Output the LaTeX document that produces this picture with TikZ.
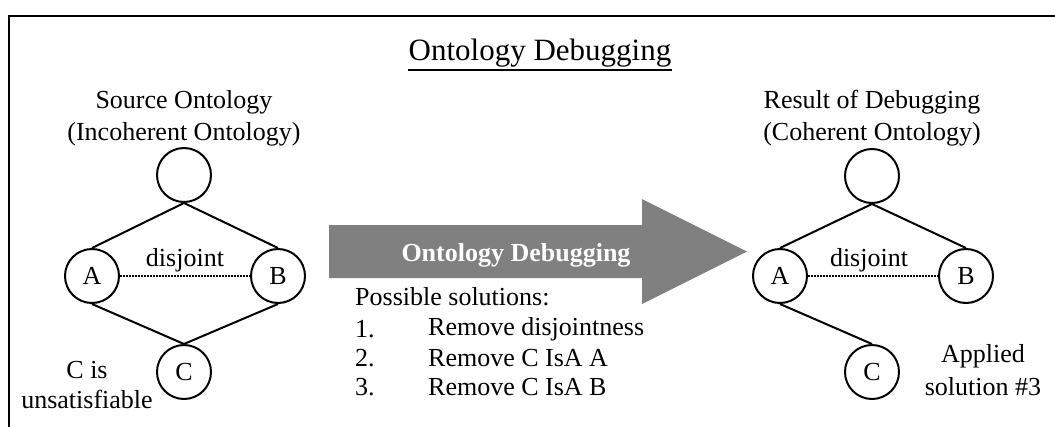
\documentclass[tikz,border=0pt]{standalone}
\usepackage{fontspec}
\setmainfont{Liberation Serif}
\begin{document}
\begin{tikzpicture}[x=1pt,y=-1pt,
  every node/.style={font=\fontsize{26}{32}\selectfont, inner sep=0pt},
  concept/.style={circle, draw, line width=2pt, minimum size=54pt},
  isa/.style={line width=2pt},
  disj/.style={line width=2pt, dash pattern=on 1.5pt off 1.5pt},
  caption/.style={align=center}]
\useasboundingbox (0,0) rectangle (1055,426);
% frame
\draw[line width=2.5pt] (9,440) -- (9,16) -- (1070,16);

% title
\node[anchor=base, font=\fontsize{31}{36}\selectfont] (title) at (540,60) {Ontology Debugging};
\draw[line width=1.8pt] ([yshift=-10pt]title.base west) -- ([yshift=-10pt]title.base east);

% source ontology
\node[caption] (srclab) at (184,118) {Source Ontology\\(Incoherent Ontology)};
\node[concept] (sT) at (184,175) {};
\node[concept] (sA) at (92,276) {A};
\node[concept] (sB) at (278,276) {B};
\node[concept] (sC) at (184,372) {C};
\draw[isa] (sT.south) -- (sA.north);
\draw[isa] (sT.south) -- (sB.north);
\draw[isa] (sA.south) -- (sC.north);
\draw[isa] (sB.south) -- (sC.north);
\draw[disj] (sA.east) -- (sB.west);
\node (sdis) at (185,260) {disjoint};
\node[caption, font=\fontsize{26}{30}\selectfont] (unsat) at (87,385) {C is\\unsatisfiable};

% debugging arrow
\fill[fill={rgb,255:red,128;green,128;blue,128}] (329,225) -- (642,225) -- (642,199) -- (747,251.5) -- (642,304) -- (642,278) -- (329,278) -- cycle;
\node[text=white, font=\fontsize{26}{32}\bfseries] (arrlab) at (516,255) {Ontology Debugging};

% possible solutions
\node[anchor=west] (poss) at (355,297) {Possible solutions:};
\node[anchor=west] (n1) at (355,329) {1.};
\node[anchor=west] (n2) at (355,358) {2.};
\node[anchor=west] (n3) at (355,387) {3.};
\node[anchor=west] (s1) at (428,329) {Remove disjointness};
\node[anchor=west] (s2) at (428,358) {Remove C IsA A};
\node[anchor=west] (s3) at (428,387) {Remove C IsA B};

% result ontology
\node[caption] (reslab) at (872,118) {Result of Debugging\\(Coherent Ontology)};
\node[concept] (rT) at (872,176) {};
\node[concept] (rA) at (780,276) {A};
\node[concept] (rB) at (966,276) {B};
\node[concept] (rC) at (872,372) {C};
\draw[isa] (rT.south) -- (rA.north);
\draw[isa] (rT.south) -- (rB.north);
\draw[isa] (rA.south) -- (rC.north);
\draw[disj] (rA.east) -- (rB.west);
\node (rdis) at (869,260) {disjoint};
\node[caption, font=\fontsize{26}{33}\selectfont] (applied) at (983,370) {Applied\\solution \#3};
\end{tikzpicture}
\end{document}
